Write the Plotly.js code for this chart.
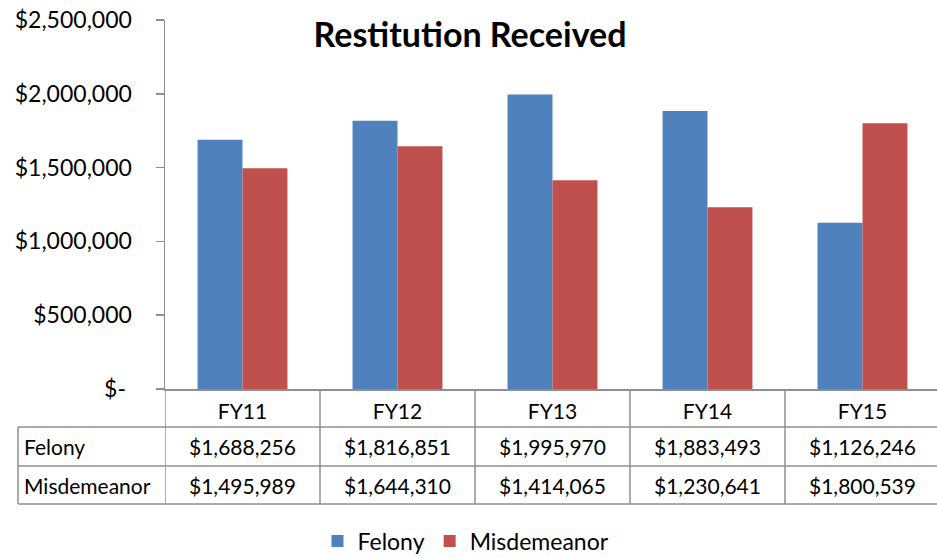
<!DOCTYPE html>
<html>
<head>
<meta charset="utf-8">
<script src="https://cdn.plot.ly/plotly-3.0.1.min.js"></script>
<style>html,body{margin:0;padding:0;background:#fff;}#chart{width:937px;height:558px;}</style>
</head>
<body>
<div id="chart"></div>
<script>
var categories = ["FY11", "FY12", "FY13", "FY14", "FY15"];
var felony = [1688256, 1816851, 1995970, 1883493, 1126246];
var misdemeanor = [1495989, 1644310, 1414065, 1230641, 1800539];
var seriesNames = ["Felony", "Misdemeanor"];
var seriesColors = ["#4F81BD", "#C0504D"];
var yTickVals = [0, 500000, 1000000, 1500000, 2000000, 2500000];
var yTickText = ["$-\u00a0", "$500,000", "$1,000,000", "$1,500,000", "$2,000,000", "$2,500,000"];
var titleText = "Restitution Received";

var FONT = "Lato, 'Open Sans', sans-serif";
var W = 937, H = 558, L = 165, T = 20, B = 169;
var plotW = W - L, plotH = H - T - B;
function px2paperX(px) { return (px - L) / plotW; }
function px2paperY(py) { return (H - B - py) / plotH; }
function money(v) { return "$" + v.toLocaleString("en-US"); }

var series = [felony, misdemeanor];
var traces = series.map(function (vals, i) {
  return {
    type: "bar", x: categories, y: vals, name: seriesNames[i],
    marker: { color: seriesColors[i], line: { width: 0 } },
    hoverinfo: "x+y"
  };
});

var rowLines = [427, 466, 504];
var rowCenters = [446.5, 485];
var gridColor = "#8f8f8f";
var shapes = [];
rowLines.forEach(function (py) {
  shapes.push({ type: "line", xref: "paper", yref: "paper", x0: px2paperX(18), x1: 1.01,
    y0: px2paperY(py), y1: px2paperY(py), line: { color: gridColor, width: 1.5 } });
});
shapes.push({ type: "line", xref: "paper", yref: "paper", x0: px2paperX(18), x1: px2paperX(18),
  y0: px2paperY(427), y1: px2paperY(504), line: { color: gridColor, width: 1.5 } });
for (var k = 0; k <= categories.length; k++) {
  shapes.push({ type: "line", xref: "x", yref: "paper", x0: k - 0.5, x1: k - 0.5,
    y0: 0, y1: px2paperY(504), line: { color: gridColor, width: 1.5 } });
}

var annotations = [];
series.forEach(function (vals, s) {
  annotations.push({ xref: "paper", yref: "paper", x: px2paperX(22), y: px2paperY(rowCenters[s]),
    xanchor: "left", yanchor: "middle", showarrow: false, text: seriesNames[s],
    font: { family: FONT, size: 21, color: "#000" } });
  vals.forEach(function (v, c) {
    annotations.push({ xref: "x", yref: "paper", x: categories[c], y: px2paperY(rowCenters[s]),
      xanchor: "center", yanchor: "middle", showarrow: false, text: money(v),
      font: { family: FONT, size: 21, color: "#000" } });
  });
});

var layout = {
  width: W, height: H,
  margin: { l: L, r: 0, t: T, b: B, pad: 0, autoexpand: false },
  paper_bgcolor: "#fff", plot_bgcolor: "#fff",
  barmode: "group", bargap: 0.42, bargroupgap: 0,
  title: { text: "<b>" + titleText + "</b>", x: px2paperX(470), xref: "paper", xanchor: "center",
    y: 1 - 35 / H, yref: "container", yanchor: "middle",
    font: { family: FONT, size: 34, color: "#000" } },
  xaxis: {
    type: "category", range: [-0.5, categories.length - 0.5 - 3 / 155],
    showgrid: false, zeroline: false, showline: true, linecolor: gridColor, linewidth: 1.5,
    ticks: "", ticklabelstandoff: 3,
    tickfont: { family: FONT, size: 21, color: "#000" }
  },
  yaxis: {
    range: [0, 2500000], tickvals: yTickVals, ticktext: yTickText,
    showgrid: false, zeroline: false, showline: true, linecolor: gridColor, linewidth: 1.5,
    ticks: "outside", ticklen: 8, tickcolor: gridColor, tickwidth: 1.5,
    ticklabelstandoff: 19,
    tickfont: { family: FONT, size: 23, color: "#000" }
  },
  showlegend: true,
  legend: { orientation: "h", x: px2paperX(466), xref: "paper", xanchor: "center",
    y: 1 - 541 / H, yref: "container", yanchor: "middle",
    font: { family: FONT, size: 23, color: "#000" }, traceorder: "normal", itemwidth: 30 },
  shapes: shapes, annotations: annotations
};

Plotly.newPlot("chart", traces, layout, { displayModeBar: false, staticPlot: true });
</script>
</body>
</html>
